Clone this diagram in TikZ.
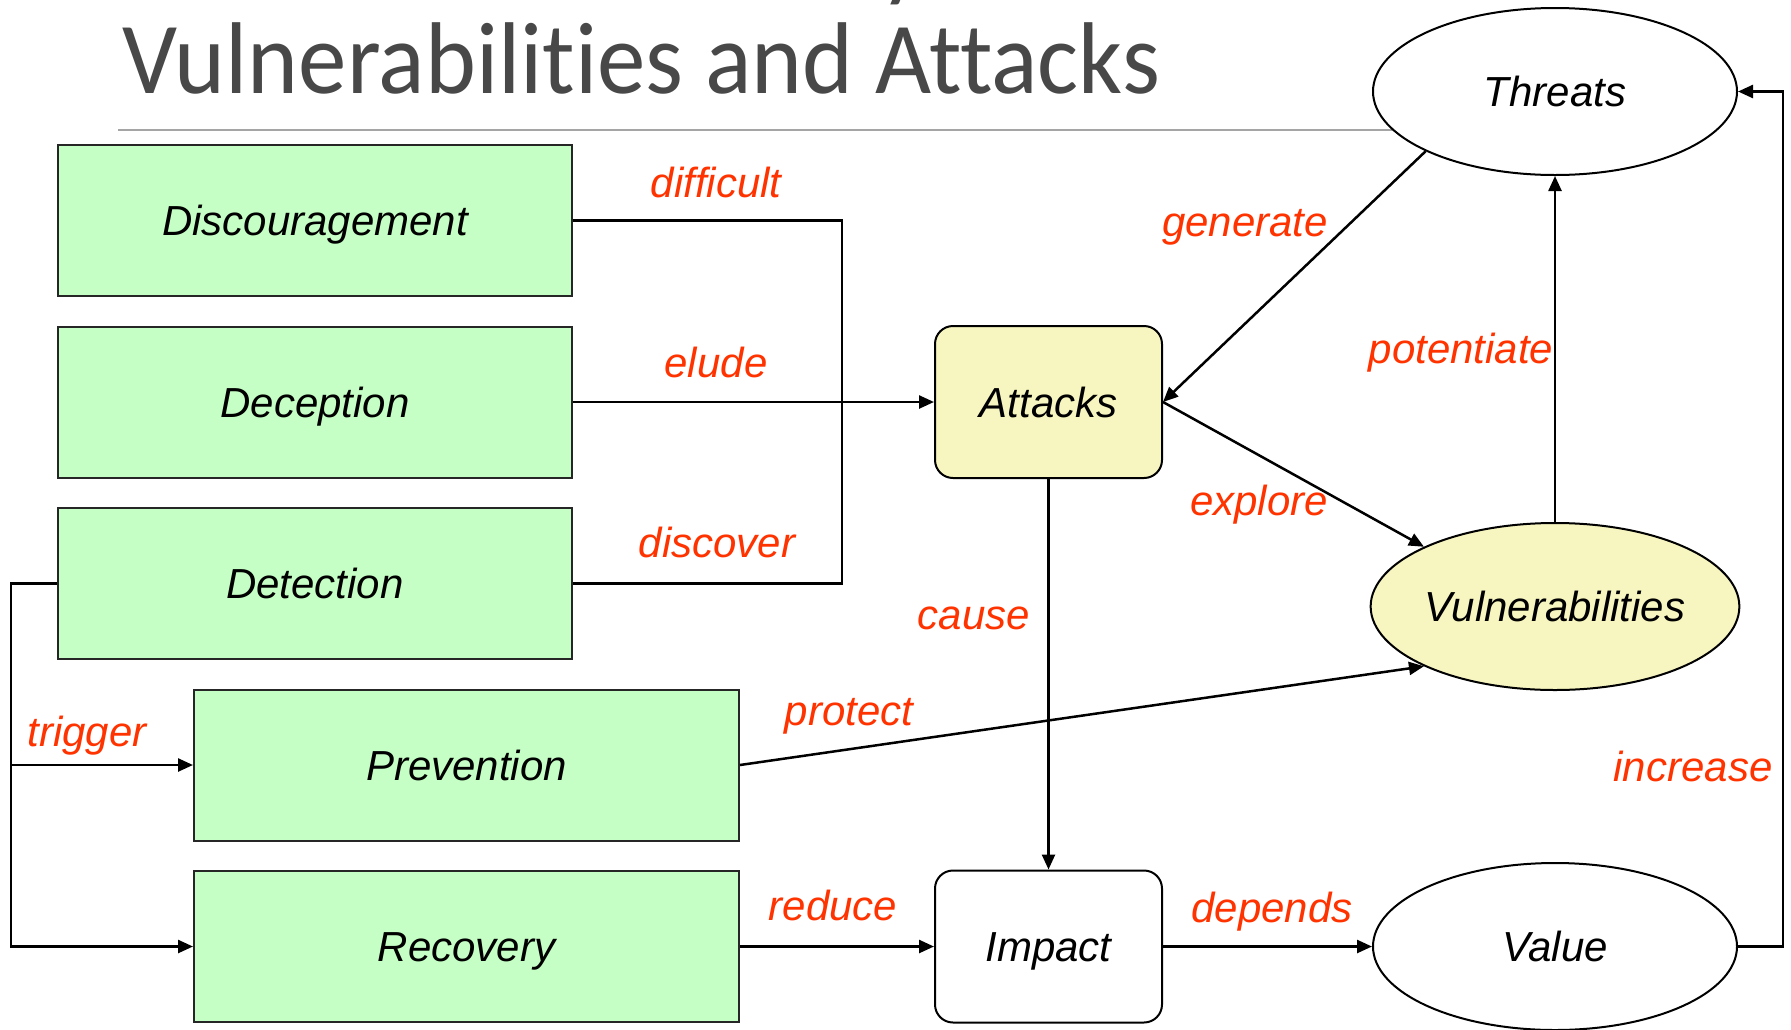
\documentclass[tikz,border=0pt]{standalone}
\usepackage{fontspec}
\setmainfont{Liberation Sans}
\newfontfamily\titlefont[Ligatures=NoCommon,FakeStretch=0.95]{Carlito}
\usetikzlibrary{arrows.meta,shapes.geometric}
\definecolor{boxgreen}{RGB}{198,255,198}
\definecolor{attyellow}{RGB}{248,246,192}
\definecolor{lblred}{RGB}{255,51,0}
\definecolor{titlegray}{RGB}{72,72,72}
\definecolor{rulegray}{RGB}{165,165,165}
\begin{document}
\begin{tikzpicture}[x=1pt,y=-1pt,
  nodefont/.style={font=\itshape\fontsize{42}{48}\selectfont},
  titlestyle/.style={text=titlegray, font=\titlefont\fontsize{102}{110}\selectfont, anchor=base west, inner sep=0pt},
  greenbox/.style={draw=black!85, line width=2pt, fill=boxgreen, inner sep=0pt,
    minimum height=151pt, text height=30pt, text depth=0pt, nodefont},
  roundbox/.style={draw=black, line width=2pt, rounded corners=18pt, inner sep=0pt,
    minimum width=227pt, minimum height=152pt, text height=30pt, text depth=0pt, nodefont},
  oval/.style={ellipse, draw=black, line width=2pt, inner sep=0pt,
    minimum width=364pt, minimum height=167pt, text height=30pt, text depth=0pt, nodefont},
  lbl/.style={font=\itshape\fontsize{42}{48}\selectfont, text=lblred, inner sep=0pt, anchor=base},
  conn/.style={line width=2.5pt, draw=black},
  arr/.style={conn, -{Triangle[length=15pt,width=13pt]}}
]
\useasboundingbox (0,0) rectangle (1791,1029);

% title
\node[titlestyle] (title) at (122,93) {Vulnerabilities and Attacks};
\node[titlestyle] (prevline) at (880,-12) {y};
\draw[rulegray, line width=2pt] (118,129.5) coordinate (r0) -- (1420,129.5) coordinate (r1);

% nodes
\node[greenbox, minimum width=514pt] (disc) at (315,220.5) {Discouragement};
\node[greenbox, minimum width=514pt] (dec)  at (315,402) {Deception};
\node[greenbox, minimum width=514pt] (det)  at (315,583.5) {Detection};
\node[greenbox, minimum width=545pt] (prev) at (466.5,765) {Prevention};
\node[greenbox, minimum width=545pt] (rec)  at (466.5,946.5) {Recovery};

\node[roundbox, fill=attyellow] (att) at (1048.5,402) {Attacks};
\node[roundbox, fill=white] (imp) at (1048.5,946.5) {Impact};

\node[oval, fill=white] (thr) at (1555,91.5) {Threats};
\node[oval, fill=attyellow] (vul) at (1555,606.5) {Vulnerabilities};
\node[oval, fill=white] (val) at (1555,946.5) {Value};

% connectors
\coordinate (j) at (842,402);
\draw[conn] (disc.east) -| (j);
\draw[conn] (det.east) -| (j);
\draw[arr] (dec.east) -- (att.west);

\coordinate (lt) at (11,583.5);
\draw[arr] (det.west) -- (lt) |- (rec.west);
\draw[arr] (lt |- prev.west) -- (prev.west);

\draw[arr] (thr.south west) -- (att.east);
\draw[arr] (att.east) -- (vul.north west);
\draw[arr] (vul.north) -- (thr.south);
\draw[arr] (att.south) -- (imp.north);
\draw[arr] (prev.east) -- (vul.south west);
\draw[arr] (rec.east) -- (imp.west);
\draw[arr] (imp.east) -- (val.west);
\coordinate (rt) at (1783,946.5);
\draw[arr] (val.east) -- (rt) |- (thr.east);

% labels
\node[lbl] (l1) at (716,197) {difficult};
\node[lbl] (l2) at (716,377) {elude};
\node[lbl] (l3) at (717,557) {discover};
\node[lbl] (l4) at (1245,236) {generate};
\node[lbl] (l5) at (1461,363) {potentiate};
\node[lbl] (l6) at (1259,515) {explore};
\node[lbl] (l7) at (974,629) {cause};
\node[lbl] (l8) at (87,746) {trigger};
\node[lbl] (l9) at (849,725) {protect};
\node[lbl] (l10) at (1693,781) {increase};
\node[lbl] (l11) at (833,920) {reduce};
\node[lbl] (l12) at (1272,922) {depends};
\end{tikzpicture}
\end{document}
